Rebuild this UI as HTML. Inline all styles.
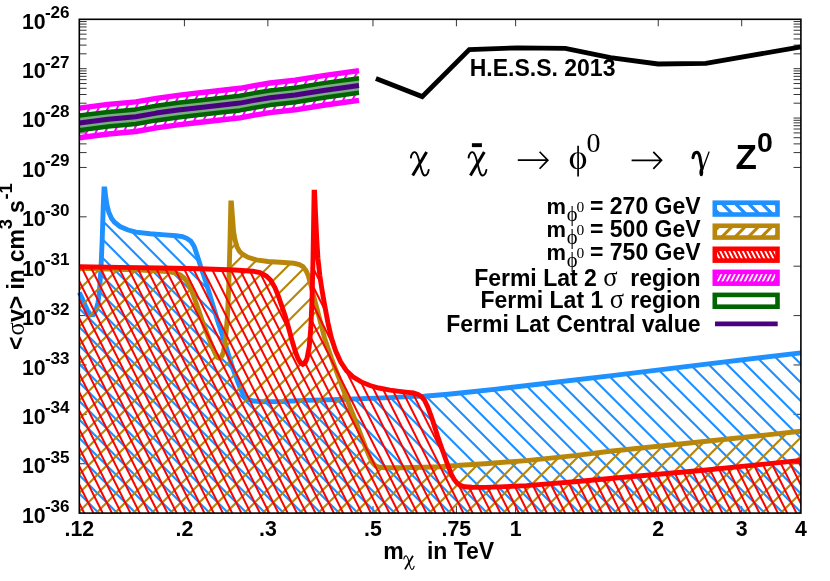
<!DOCTYPE html>
<html><head><meta charset="utf-8"><title>chart</title>
<style>html,body{margin:0;padding:0;background:#fff}svg{display:block}text{white-space:pre}#c{width:830px;height:581px;will-change:transform}</style></head>
<body>
<div id="c">
<svg width="830" height="581" viewBox="0 0 830 581">
<g>
<defs>
<clipPath id="cf"><rect x="79.30" y="19.30" width="721.60" height="493.80"/></clipPath>
<clipPath id="cb"><path d="M79.30 292.50 L82.00 298.00 L85.00 305.00 L88.00 311.50 L91.00 314.80 L93.50 314.50 L96.00 310.00 L98.00 303.00 L99.50 290.00 L101.00 268.00 L102.20 240.00 L103.30 205.00 L104.00 188.90 L104.80 188.90 L105.70 197.00 L107.00 205.20 L108.80 212.30 L111.60 218.60 L114.50 222.30 L120.00 226.50 L128.00 230.00 L136.00 232.20 L150.00 233.80 L165.00 234.90 L176.00 235.70 L182.50 236.60 L186.80 238.30 L190.90 241.30 L194.20 246.50 L196.90 254.40 L200.50 266.00 L205.90 281.90 L211.90 302.00 L218.40 323.20 L223.90 339.50 L228.30 354.10 L232.80 368.50 L237.70 381.60 L240.90 389.80 L244.20 395.80 L248.00 399.30 L253.50 401.00 L262.00 401.70 L283.00 401.50 L305.00 400.40 L340.00 399.50 L390.00 397.60 L413.20 396.40 L424.00 396.20 L436.00 395.30 L448.20 394.20 L460.00 393.00 L472.30 391.80 L496.40 389.10 L544.60 383.50 L610.00 375.90 L706.40 364.10 L800.90 352.90 L800.90 513.10 L79.30 513.10 Z"/></clipPath>
<clipPath id="cg"><path d="M79.30 268.20 L108.00 269.00 L135.80 269.90 L160.00 271.00 L170.00 271.90 L176.00 273.20 L180.50 275.20 L184.20 278.00 L187.20 281.90 L191.90 291.50 L197.20 306.00 L201.80 319.50 L207.00 333.50 L210.50 342.40 L213.50 350.00 L216.00 355.30 L217.60 357.40 L219.20 358.10 L220.80 357.40 L222.20 355.30 L223.50 351.50 L224.70 345.00 L225.80 335.00 L227.50 316.00 L228.80 285.00 L229.90 245.00 L230.85 203.00 L231.45 203.00 L232.40 216.00 L233.60 231.60 L235.10 240.30 L237.00 246.80 L239.40 251.20 L242.50 254.20 L248.00 257.30 L256.30 259.80 L268.00 261.50 L283.80 262.50 L294.00 263.30 L299.30 264.50 L303.00 266.60 L306.10 270.80 L308.20 275.50 L310.50 283.50 L313.00 294.00 L316.10 305.50 L320.30 321.50 L324.60 338.20 L331.40 358.00 L338.90 378.00 L347.15 399.80 L353.75 416.50 L360.50 434.20 L365.40 447.00 L369.90 457.60 L372.80 463.00 L375.70 466.00 L380.00 467.30 L385.70 467.70 L400.00 467.80 L423.60 467.30 L440.00 466.70 L460.00 465.30 L485.00 463.70 L526.40 460.60 L574.60 455.60 L610.00 451.20 L706.40 441.20 L800.90 431.30 L800.90 513.10 L79.30 513.10 Z"/></clipPath>
<clipPath id="cr"><path d="M79.30 266.80 L120.00 267.40 L160.00 268.00 L200.00 268.80 L235.00 270.00 L252.50 271.20 L260.00 272.60 L266.30 276.00 L270.50 280.00 L274.90 287.50 L278.00 295.00 L281.80 306.00 L285.20 316.00 L288.50 327.50 L292.00 340.50 L295.00 350.50 L298.00 358.50 L300.50 362.80 L302.80 364.40 L305.00 363.30 L307.00 358.50 L309.20 347.00 L310.80 328.00 L312.00 300.00 L313.00 260.00 L313.60 225.00 L314.10 192.30 L314.60 192.30 L315.60 215.00 L316.80 240.00 L318.00 259.00 L319.90 276.00 L322.00 290.00 L324.70 305.50 L327.90 322.50 L331.30 337.50 L335.60 350.80 L340.60 361.80 L346.30 370.50 L352.90 376.80 L361.20 381.90 L370.00 385.50 L378.80 388.00 L390.00 390.20 L399.50 391.40 L408.00 392.40 L413.50 393.00 L418.00 394.40 L421.50 396.60 L424.50 400.30 L427.70 406.90 L430.30 413.80 L432.90 421.30 L435.50 429.60 L438.10 437.90 L440.70 445.30 L443.20 452.30 L447.40 464.20 L451.50 474.60 L454.00 479.20 L456.70 482.80 L460.00 485.30 L464.90 486.80 L472.00 487.30 L485.00 487.40 L500.00 486.90 L526.40 485.60 L574.60 481.80 L610.00 478.50 L706.40 470.00 L800.90 460.40 L800.90 513.10 L79.30 513.10 Z"/></clipPath>
<clipPath id="cm"><path d="M79.30 108.10 L108.10 104.40 L135.80 101.90 L156.30 98.30 L178.00 95.30 L194.10 93.40 L218.20 90.70 L239.90 88.30 L254.30 85.60 L270.00 83.00 L295.10 80.20 L325.20 75.40 L359.00 70.70 L359.00 100.30 L325.20 105.00 L295.10 109.80 L270.00 112.60 L254.30 115.20 L239.90 117.90 L218.20 120.30 L194.10 123.00 L178.00 124.90 L156.30 127.90 L135.80 131.50 L108.10 134.00 L79.30 137.70 Z"/></clipPath>
</defs>
<path d="M79.30 53.82 h7.3 M800.90 53.82 h-7.3 M79.30 45.12 h7.3 M800.90 45.12 h-7.3 M79.30 38.95 h7.3 M800.90 38.95 h-7.3 M79.30 34.16 h7.3 M800.90 34.16 h-7.3 M79.30 30.25 h7.3 M800.90 30.25 h-7.3 M79.30 26.95 h7.3 M800.90 26.95 h-7.3 M79.30 24.09 h7.3 M800.90 24.09 h-7.3 M79.30 21.56 h7.3 M800.90 21.56 h-7.3 M79.30 68.68 h7.4 M800.90 68.68 h-7.4 M79.30 103.20 h7.3 M800.90 103.20 h-7.3 M79.30 94.50 h7.3 M800.90 94.50 h-7.3 M79.30 88.33 h7.3 M800.90 88.33 h-7.3 M79.30 83.54 h7.3 M800.90 83.54 h-7.3 M79.30 79.63 h7.3 M800.90 79.63 h-7.3 M79.30 76.33 h7.3 M800.90 76.33 h-7.3 M79.30 73.47 h7.3 M800.90 73.47 h-7.3 M79.30 70.94 h7.3 M800.90 70.94 h-7.3 M79.30 118.06 h7.4 M800.90 118.06 h-7.4 M79.30 152.58 h7.3 M800.90 152.58 h-7.3 M79.30 143.88 h7.3 M800.90 143.88 h-7.3 M79.30 137.71 h7.3 M800.90 137.71 h-7.3 M79.30 132.92 h7.3 M800.90 132.92 h-7.3 M79.30 129.01 h7.3 M800.90 129.01 h-7.3 M79.30 125.71 h7.3 M800.90 125.71 h-7.3 M79.30 122.85 h7.3 M800.90 122.85 h-7.3 M79.30 120.32 h7.3 M800.90 120.32 h-7.3 M79.30 167.44 h7.4 M800.90 167.44 h-7.4 M79.30 216.82 h7.4 M800.90 216.82 h-7.4 M79.30 266.20 h7.4 M800.90 266.20 h-7.4 M79.30 315.58 h7.4 M800.90 315.58 h-7.4 M79.30 364.96 h7.4 M800.90 364.96 h-7.4 M79.30 414.34 h7.4 M800.90 414.34 h-7.4 M79.30 463.72 h7.4 M800.90 463.72 h-7.4 M184.42 19.30 v7 M184.42 513.10 v-7 M267.86 19.30 v7 M267.86 513.10 v-7 M372.98 19.30 v7 M372.98 513.10 v-7 M456.42 19.30 v7 M456.42 513.10 v-7 M515.62 19.30 v7 M515.62 513.10 v-7 M658.26 19.30 v7 M658.26 513.10 v-7 M741.70 19.30 v7 M741.70 513.10 v-7" stroke="#000" stroke-width="0.8" fill="none"/>
<g>
<path d="M71.55 14.30 L-180.35 518.10 M80.80 14.30 L-171.10 518.10 M90.05 14.30 L-161.85 518.10 M99.30 14.30 L-152.60 518.10 M108.55 14.30 L-143.35 518.10 M117.80 14.30 L-134.10 518.10 M127.05 14.30 L-124.85 518.10 M136.30 14.30 L-115.60 518.10 M145.55 14.30 L-106.35 518.10 M154.80 14.30 L-97.10 518.10 M164.05 14.30 L-87.85 518.10 M173.30 14.30 L-78.60 518.10 M182.55 14.30 L-69.35 518.10 M191.80 14.30 L-60.10 518.10 M201.05 14.30 L-50.85 518.10 M210.30 14.30 L-41.60 518.10 M219.55 14.30 L-32.35 518.10 M228.80 14.30 L-23.10 518.10 M238.05 14.30 L-13.85 518.10 M247.30 14.30 L-4.60 518.10 M256.55 14.30 L4.65 518.10 M265.80 14.30 L13.90 518.10 M275.05 14.30 L23.15 518.10 M284.30 14.30 L32.40 518.10 M293.55 14.30 L41.65 518.10 M302.80 14.30 L50.90 518.10 M312.05 14.30 L60.15 518.10 M321.30 14.30 L69.40 518.10 M330.55 14.30 L78.65 518.10 M339.80 14.30 L87.90 518.10 M349.05 14.30 L97.15 518.10 M358.30 14.30 L106.40 518.10 M367.55 14.30 L115.65 518.10 M376.80 14.30 L124.90 518.10 M386.05 14.30 L134.15 518.10 M395.30 14.30 L143.40 518.10 M404.55 14.30 L152.65 518.10 M413.80 14.30 L161.90 518.10 M423.05 14.30 L171.15 518.10 M432.30 14.30 L180.40 518.10 M441.55 14.30 L189.65 518.10 M450.80 14.30 L198.90 518.10 M460.05 14.30 L208.15 518.10 M469.30 14.30 L217.40 518.10 M478.55 14.30 L226.65 518.10 M487.80 14.30 L235.90 518.10 M497.05 14.30 L245.15 518.10 M506.30 14.30 L254.40 518.10 M515.55 14.30 L263.65 518.10 M524.80 14.30 L272.90 518.10 M534.05 14.30 L282.15 518.10 M543.30 14.30 L291.40 518.10 M552.55 14.30 L300.65 518.10 M561.80 14.30 L309.90 518.10 M571.05 14.30 L319.15 518.10 M580.30 14.30 L328.40 518.10 M589.55 14.30 L337.65 518.10 M598.80 14.30 L346.90 518.10 M608.05 14.30 L356.15 518.10 M617.30 14.30 L365.40 518.10 M626.55 14.30 L374.65 518.10 M635.80 14.30 L383.90 518.10 M645.05 14.30 L393.15 518.10 M654.30 14.30 L402.40 518.10 M663.55 14.30 L411.65 518.10 M672.80 14.30 L420.90 518.10 M682.05 14.30 L430.15 518.10 M691.30 14.30 L439.40 518.10 M700.55 14.30 L448.65 518.10 M709.80 14.30 L457.90 518.10 M719.05 14.30 L467.15 518.10 M728.30 14.30 L476.40 518.10 M737.55 14.30 L485.65 518.10 M746.80 14.30 L494.90 518.10 M756.05 14.30 L504.15 518.10 M765.30 14.30 L513.40 518.10 M774.55 14.30 L522.65 518.10 M783.80 14.30 L531.90 518.10 M793.05 14.30 L541.15 518.10 M802.30 14.30 L550.40 518.10 M811.55 14.30 L559.65 518.10 M820.80 14.30 L568.90 518.10 M830.05 14.30 L578.15 518.10 M839.30 14.30 L587.40 518.10 M848.55 14.30 L596.65 518.10 M857.80 14.30 L605.90 518.10 M867.05 14.30 L615.15 518.10 M876.30 14.30 L624.40 518.10 M885.55 14.30 L633.65 518.10 M894.80 14.30 L642.90 518.10 M904.05 14.30 L652.15 518.10 M913.30 14.30 L661.40 518.10 M922.55 14.30 L670.65 518.10 M931.80 14.30 L679.90 518.10 M941.05 14.30 L689.15 518.10 M950.30 14.30 L698.40 518.10 M959.55 14.30 L707.65 518.10 M968.80 14.30 L716.90 518.10 M978.05 14.30 L726.15 518.10 M987.30 14.30 L735.40 518.10 M996.55 14.30 L744.65 518.10 M1005.80 14.30 L753.90 518.10 M1015.05 14.30 L763.15 518.10 M1024.30 14.30 L772.40 518.10 M1033.55 14.30 L781.65 518.10 M1042.80 14.30 L790.90 518.10 M1052.05 14.30 L800.15 518.10 M1061.30 14.30 L809.40 518.10" stroke="#ff00ff" stroke-width="2.00" fill="none" clip-path="url(#cm)"/>
<path d="M79.30 115.60 L108.10 111.90 L135.80 109.40 L156.30 105.80 L178.00 102.80 L194.10 100.90 L218.20 98.20 L239.90 95.80 L254.30 93.10 L270.00 90.50 L295.10 87.70 L325.20 82.90 L359.00 78.20 L359.00 92.80 L325.20 97.50 L295.10 102.30 L270.00 105.10 L254.30 107.70 L239.90 110.40 L218.20 112.80 L194.10 115.50 L178.00 117.40 L156.30 120.40 L135.80 124.00 L108.10 126.50 L79.30 130.20 Z" fill="#7aad7f" stroke="none"/>
<path d="M79.30 108.10 L108.10 104.40 L135.80 101.90 L156.30 98.30 L178.00 95.30 L194.10 93.40 L218.20 90.70 L239.90 88.30 L254.30 85.60 L270.00 83.00 L295.10 80.20 L325.20 75.40 L359.00 70.70" fill="none" stroke="#ff00ff" stroke-width="5.4" stroke-linejoin="round"/>
<path d="M79.30 137.70 L108.10 134.00 L135.80 131.50 L156.30 127.90 L178.00 124.90 L194.10 123.00 L218.20 120.30 L239.90 117.90 L254.30 115.20 L270.00 112.60 L295.10 109.80 L325.20 105.00 L359.00 100.30" fill="none" stroke="#ff00ff" stroke-width="5.4" stroke-linejoin="round"/>
<path d="M79.30 115.60 L108.10 111.90 L135.80 109.40 L156.30 105.80 L178.00 102.80 L194.10 100.90 L218.20 98.20 L239.90 95.80 L254.30 93.10 L270.00 90.50 L295.10 87.70 L325.20 82.90 L359.00 78.20" fill="none" stroke="#006400" stroke-width="4.5" stroke-linejoin="round"/>
<path d="M79.30 130.20 L108.10 126.50 L135.80 124.00 L156.30 120.40 L178.00 117.40 L194.10 115.50 L218.20 112.80 L239.90 110.40 L254.30 107.70 L270.00 105.10 L295.10 102.30 L325.20 97.50 L359.00 92.80" fill="none" stroke="#006400" stroke-width="4.5" stroke-linejoin="round"/>
<path d="M79.30 122.90 L108.10 119.20 L135.80 116.70 L156.30 113.10 L178.00 110.10 L194.10 108.20 L218.20 105.50 L239.90 103.10 L254.30 100.40 L270.00 97.80 L295.10 95.00 L325.20 90.20 L359.00 85.50" fill="none" stroke="#4b0082" stroke-width="5.0" stroke-linejoin="round"/>
</g>
<path d="M375.90 78.40 L422.20 96.60 L469.30 49.50 L517.60 47.80 L565.30 48.30 L610.40 57.60 L658.10 64.00 L705.80 63.40 L800.90 46.90" fill="none" stroke="#000" stroke-width="4.8" stroke-linejoin="miter"/>
<g>
<path d="M802.50 14.30 L1306.30 518.10 M784.00 14.30 L1287.80 518.10 M765.50 14.30 L1269.30 518.10 M747.00 14.30 L1250.80 518.10 M728.50 14.30 L1232.30 518.10 M710.00 14.30 L1213.80 518.10 M691.50 14.30 L1195.30 518.10 M673.00 14.30 L1176.80 518.10 M654.50 14.30 L1158.30 518.10 M636.00 14.30 L1139.80 518.10 M617.50 14.30 L1121.30 518.10 M599.00 14.30 L1102.80 518.10 M580.50 14.30 L1084.30 518.10 M562.00 14.30 L1065.80 518.10 M543.50 14.30 L1047.30 518.10 M525.00 14.30 L1028.80 518.10 M506.50 14.30 L1010.30 518.10 M488.00 14.30 L991.80 518.10 M469.50 14.30 L973.30 518.10 M451.00 14.30 L954.80 518.10 M432.50 14.30 L936.30 518.10 M414.00 14.30 L917.80 518.10 M395.50 14.30 L899.30 518.10 M377.00 14.30 L880.80 518.10 M358.50 14.30 L862.30 518.10 M340.00 14.30 L843.80 518.10 M321.50 14.30 L825.30 518.10 M303.00 14.30 L806.80 518.10 M284.50 14.30 L788.30 518.10 M266.00 14.30 L769.80 518.10 M247.50 14.30 L751.30 518.10 M229.00 14.30 L732.80 518.10 M210.50 14.30 L714.30 518.10 M192.00 14.30 L695.80 518.10 M173.50 14.30 L677.30 518.10 M155.00 14.30 L658.80 518.10 M136.50 14.30 L640.30 518.10 M118.00 14.30 L621.80 518.10 M99.50 14.30 L603.30 518.10 M81.00 14.30 L584.80 518.10 M62.50 14.30 L566.30 518.10 M44.00 14.30 L547.80 518.10 M25.50 14.30 L529.30 518.10 M7.00 14.30 L510.80 518.10 M-11.50 14.30 L492.30 518.10 M-30.00 14.30 L473.80 518.10 M-48.50 14.30 L455.30 518.10 M-67.00 14.30 L436.80 518.10 M-85.50 14.30 L418.30 518.10 M-104.00 14.30 L399.80 518.10 M-122.50 14.30 L381.30 518.10 M-141.00 14.30 L362.80 518.10 M-159.50 14.30 L344.30 518.10 M-178.00 14.30 L325.80 518.10 M-196.50 14.30 L307.30 518.10 M-215.00 14.30 L288.80 518.10 M-233.50 14.30 L270.30 518.10 M-252.00 14.30 L251.80 518.10 M-270.50 14.30 L233.30 518.10 M-289.00 14.30 L214.80 518.10 M-307.50 14.30 L196.30 518.10 M-326.00 14.30 L177.80 518.10 M-344.50 14.30 L159.30 518.10 M-363.00 14.30 L140.80 518.10 M-381.50 14.30 L122.30 518.10 M-400.00 14.30 L103.80 518.10 M-418.50 14.30 L85.30 518.10 M-437.00 14.30 L66.80 518.10" stroke="#1e90ff" stroke-width="2.10" fill="none" clip-path="url(#cb)"/>
<path d="M79.30 292.50 L82.00 298.00 L85.00 305.00 L88.00 311.50 L91.00 314.80 L93.50 314.50 L96.00 310.00 L98.00 303.00 L99.50 290.00 L101.00 268.00 L102.20 240.00 L103.30 205.00 L104.00 188.90 L104.80 188.90 L105.70 197.00 L107.00 205.20 L108.80 212.30 L111.60 218.60 L114.50 222.30 L120.00 226.50 L128.00 230.00 L136.00 232.20 L150.00 233.80 L165.00 234.90 L176.00 235.70 L182.50 236.60 L186.80 238.30 L190.90 241.30 L194.20 246.50 L196.90 254.40 L200.50 266.00 L205.90 281.90 L211.90 302.00 L218.40 323.20 L223.90 339.50 L228.30 354.10 L232.80 368.50 L237.70 381.60 L240.90 389.80 L244.20 395.80 L248.00 399.30 L253.50 401.00 L262.00 401.70 L283.00 401.50 L305.00 400.40 L340.00 399.50 L390.00 397.60 L413.20 396.40 L424.00 396.20 L436.00 395.30 L448.20 394.20 L460.00 393.00 L472.30 391.80 L496.40 389.10 L544.60 383.50 L610.00 375.90 L706.40 364.10 L800.90 352.90" fill="none" stroke="#1e90ff" stroke-width="4.9" stroke-linejoin="miter" stroke-miterlimit="3"/>
<path d="M77.00 14.30 L-426.80 518.10 M95.50 14.30 L-408.30 518.10 M114.00 14.30 L-389.80 518.10 M132.50 14.30 L-371.30 518.10 M151.00 14.30 L-352.80 518.10 M169.50 14.30 L-334.30 518.10 M188.00 14.30 L-315.80 518.10 M206.50 14.30 L-297.30 518.10 M225.00 14.30 L-278.80 518.10 M243.50 14.30 L-260.30 518.10 M262.00 14.30 L-241.80 518.10 M280.50 14.30 L-223.30 518.10 M299.00 14.30 L-204.80 518.10 M317.50 14.30 L-186.30 518.10 M336.00 14.30 L-167.80 518.10 M354.50 14.30 L-149.30 518.10 M373.00 14.30 L-130.80 518.10 M391.50 14.30 L-112.30 518.10 M410.00 14.30 L-93.80 518.10 M428.50 14.30 L-75.30 518.10 M447.00 14.30 L-56.80 518.10 M465.50 14.30 L-38.30 518.10 M484.00 14.30 L-19.80 518.10 M502.50 14.30 L-1.30 518.10 M521.00 14.30 L17.20 518.10 M539.50 14.30 L35.70 518.10 M558.00 14.30 L54.20 518.10 M576.50 14.30 L72.70 518.10 M595.00 14.30 L91.20 518.10 M613.50 14.30 L109.70 518.10 M632.00 14.30 L128.20 518.10 M650.50 14.30 L146.70 518.10 M669.00 14.30 L165.20 518.10 M687.50 14.30 L183.70 518.10 M706.00 14.30 L202.20 518.10 M724.50 14.30 L220.70 518.10 M743.00 14.30 L239.20 518.10 M761.50 14.30 L257.70 518.10 M780.00 14.30 L276.20 518.10 M798.50 14.30 L294.70 518.10 M817.00 14.30 L313.20 518.10 M835.50 14.30 L331.70 518.10 M854.00 14.30 L350.20 518.10 M872.50 14.30 L368.70 518.10 M891.00 14.30 L387.20 518.10 M909.50 14.30 L405.70 518.10 M928.00 14.30 L424.20 518.10 M946.50 14.30 L442.70 518.10 M965.00 14.30 L461.20 518.10 M983.50 14.30 L479.70 518.10 M1002.00 14.30 L498.20 518.10 M1020.50 14.30 L516.70 518.10 M1039.00 14.30 L535.20 518.10 M1057.50 14.30 L553.70 518.10 M1076.00 14.30 L572.20 518.10 M1094.50 14.30 L590.70 518.10 M1113.00 14.30 L609.20 518.10 M1131.50 14.30 L627.70 518.10 M1150.00 14.30 L646.20 518.10 M1168.50 14.30 L664.70 518.10 M1187.00 14.30 L683.20 518.10 M1205.50 14.30 L701.70 518.10 M1224.00 14.30 L720.20 518.10 M1242.50 14.30 L738.70 518.10 M1261.00 14.30 L757.20 518.10 M1279.50 14.30 L775.70 518.10 M1298.00 14.30 L794.20 518.10 M1316.50 14.30 L812.70 518.10" stroke="#b8860b" stroke-width="2.15" fill="none" clip-path="url(#cg)"/>
<path d="M79.30 268.20 L108.00 269.00 L135.80 269.90 L160.00 271.00 L170.00 271.90 L176.00 273.20 L180.50 275.20 L184.20 278.00 L187.20 281.90 L191.90 291.50 L197.20 306.00 L201.80 319.50 L207.00 333.50 L210.50 342.40 L213.50 350.00 L216.00 355.30 L217.60 357.40 L219.20 358.10 L220.80 357.40 L222.20 355.30 L223.50 351.50 L224.70 345.00 L225.80 335.00 L227.50 316.00 L228.80 285.00 L229.90 245.00 L230.85 203.00 L231.45 203.00 L232.40 216.00 L233.60 231.60 L235.10 240.30 L237.00 246.80 L239.40 251.20 L242.50 254.20 L248.00 257.30 L256.30 259.80 L268.00 261.50 L283.80 262.50 L294.00 263.30 L299.30 264.50 L303.00 266.60 L306.10 270.80 L308.20 275.50 L310.50 283.50 L313.00 294.00 L316.10 305.50 L320.30 321.50 L324.60 338.20 L331.40 358.00 L338.90 378.00 L347.15 399.80 L353.75 416.50 L360.50 434.20 L365.40 447.00 L369.90 457.60 L372.80 463.00 L375.70 466.00 L380.00 467.30 L385.70 467.70 L400.00 467.80 L423.60 467.30 L440.00 466.70 L460.00 465.30 L485.00 463.70 L526.40 460.60 L574.60 455.60 L610.00 451.20 L706.40 441.20 L800.90 431.30" fill="none" stroke="#b8860b" stroke-width="4.9" stroke-linejoin="miter" stroke-miterlimit="3"/>
<path d="M-174.45 14.30 L77.45 518.10 M-165.20 14.30 L86.70 518.10 M-155.95 14.30 L95.95 518.10 M-146.70 14.30 L105.20 518.10 M-137.45 14.30 L114.45 518.10 M-128.20 14.30 L123.70 518.10 M-118.95 14.30 L132.95 518.10 M-109.70 14.30 L142.20 518.10 M-100.45 14.30 L151.45 518.10 M-91.20 14.30 L160.70 518.10 M-81.95 14.30 L169.95 518.10 M-72.70 14.30 L179.20 518.10 M-63.45 14.30 L188.45 518.10 M-54.20 14.30 L197.70 518.10 M-44.95 14.30 L206.95 518.10 M-35.70 14.30 L216.20 518.10 M-26.45 14.30 L225.45 518.10 M-17.20 14.30 L234.70 518.10 M-7.95 14.30 L243.95 518.10 M1.30 14.30 L253.20 518.10 M10.55 14.30 L262.45 518.10 M19.80 14.30 L271.70 518.10 M29.05 14.30 L280.95 518.10 M38.30 14.30 L290.20 518.10 M47.55 14.30 L299.45 518.10 M56.80 14.30 L308.70 518.10 M66.05 14.30 L317.95 518.10 M75.30 14.30 L327.20 518.10 M84.55 14.30 L336.45 518.10 M93.80 14.30 L345.70 518.10 M103.05 14.30 L354.95 518.10 M112.30 14.30 L364.20 518.10 M121.55 14.30 L373.45 518.10 M130.80 14.30 L382.70 518.10 M140.05 14.30 L391.95 518.10 M149.30 14.30 L401.20 518.10 M158.55 14.30 L410.45 518.10 M167.80 14.30 L419.70 518.10 M177.05 14.30 L428.95 518.10 M186.30 14.30 L438.20 518.10 M195.55 14.30 L447.45 518.10 M204.80 14.30 L456.70 518.10 M214.05 14.30 L465.95 518.10 M223.30 14.30 L475.20 518.10 M232.55 14.30 L484.45 518.10 M241.80 14.30 L493.70 518.10 M251.05 14.30 L502.95 518.10 M260.30 14.30 L512.20 518.10 M269.55 14.30 L521.45 518.10 M278.80 14.30 L530.70 518.10 M288.05 14.30 L539.95 518.10 M297.30 14.30 L549.20 518.10 M306.55 14.30 L558.45 518.10 M315.80 14.30 L567.70 518.10 M325.05 14.30 L576.95 518.10 M334.30 14.30 L586.20 518.10 M343.55 14.30 L595.45 518.10 M352.80 14.30 L604.70 518.10 M362.05 14.30 L613.95 518.10 M371.30 14.30 L623.20 518.10 M380.55 14.30 L632.45 518.10 M389.80 14.30 L641.70 518.10 M399.05 14.30 L650.95 518.10 M408.30 14.30 L660.20 518.10 M417.55 14.30 L669.45 518.10 M426.80 14.30 L678.70 518.10 M436.05 14.30 L687.95 518.10 M445.30 14.30 L697.20 518.10 M454.55 14.30 L706.45 518.10 M463.80 14.30 L715.70 518.10 M473.05 14.30 L724.95 518.10 M482.30 14.30 L734.20 518.10 M491.55 14.30 L743.45 518.10 M500.80 14.30 L752.70 518.10 M510.05 14.30 L761.95 518.10 M519.30 14.30 L771.20 518.10 M528.55 14.30 L780.45 518.10 M537.80 14.30 L789.70 518.10 M547.05 14.30 L798.95 518.10 M556.30 14.30 L808.20 518.10 M565.55 14.30 L817.45 518.10 M574.80 14.30 L826.70 518.10 M584.05 14.30 L835.95 518.10 M593.30 14.30 L845.20 518.10 M602.55 14.30 L854.45 518.10 M611.80 14.30 L863.70 518.10 M621.05 14.30 L872.95 518.10 M630.30 14.30 L882.20 518.10 M639.55 14.30 L891.45 518.10 M648.80 14.30 L900.70 518.10 M658.05 14.30 L909.95 518.10 M667.30 14.30 L919.20 518.10 M676.55 14.30 L928.45 518.10 M685.80 14.30 L937.70 518.10 M695.05 14.30 L946.95 518.10 M704.30 14.30 L956.20 518.10 M713.55 14.30 L965.45 518.10 M722.80 14.30 L974.70 518.10 M732.05 14.30 L983.95 518.10 M741.30 14.30 L993.20 518.10 M750.55 14.30 L1002.45 518.10 M759.80 14.30 L1011.70 518.10 M769.05 14.30 L1020.95 518.10 M778.30 14.30 L1030.20 518.10 M787.55 14.30 L1039.45 518.10 M796.80 14.30 L1048.70 518.10 M806.05 14.30 L1057.95 518.10" stroke="#ff0000" stroke-width="2.00" fill="none" clip-path="url(#cr)"/>
<path d="M79.30 266.80 L120.00 267.40 L160.00 268.00 L200.00 268.80 L235.00 270.00 L252.50 271.20 L260.00 272.60 L266.30 276.00 L270.50 280.00 L274.90 287.50 L278.00 295.00 L281.80 306.00 L285.20 316.00 L288.50 327.50 L292.00 340.50 L295.00 350.50 L298.00 358.50 L300.50 362.80 L302.80 364.40 L305.00 363.30 L307.00 358.50 L309.20 347.00 L310.80 328.00 L312.00 300.00 L313.00 260.00 L313.60 225.00 L314.10 192.30 L314.60 192.30 L315.60 215.00 L316.80 240.00 L318.00 259.00 L319.90 276.00 L322.00 290.00 L324.70 305.50 L327.90 322.50 L331.30 337.50 L335.60 350.80 L340.60 361.80 L346.30 370.50 L352.90 376.80 L361.20 381.90 L370.00 385.50 L378.80 388.00 L390.00 390.20 L399.50 391.40 L408.00 392.40 L413.50 393.00 L418.00 394.40 L421.50 396.60 L424.50 400.30 L427.70 406.90 L430.30 413.80 L432.90 421.30 L435.50 429.60 L438.10 437.90 L440.70 445.30 L443.20 452.30 L447.40 464.20 L451.50 474.60 L454.00 479.20 L456.70 482.80 L460.00 485.30 L464.90 486.80 L472.00 487.30 L485.00 487.40 L500.00 486.90 L526.40 485.60 L574.60 481.80 L610.00 478.50 L706.40 470.00 L800.90 460.40" fill="none" stroke="#ff0000" stroke-width="4.9" stroke-linejoin="miter" stroke-miterlimit="3"/>
</g>
<rect x="79.30" y="19.30" width="721.60" height="493.80" fill="none" stroke="#000" stroke-width="1.6"/>
<g style="font-family:'Liberation Sans',sans-serif;font-weight:bold;font-size:21.33px" fill="#000">
<text x="69.6" y="28.60" text-anchor="end">10<tspan dy="-10.5" dx="-0.7" font-size="17.07">-26</tspan></text>
<text x="69.6" y="78.02" text-anchor="end">10<tspan dy="-10.5" dx="-0.7" font-size="17.07">-27</tspan></text>
<text x="69.6" y="127.44" text-anchor="end">10<tspan dy="-10.5" dx="-0.7" font-size="17.07">-28</tspan></text>
<text x="69.6" y="176.86" text-anchor="end">10<tspan dy="-10.5" dx="-0.7" font-size="17.07">-29</tspan></text>
<text x="69.6" y="226.28" text-anchor="end">10<tspan dy="-10.5" dx="-0.7" font-size="17.07">-30</tspan></text>
<text x="69.6" y="275.70" text-anchor="end">10<tspan dy="-10.5" dx="-0.7" font-size="17.07">-31</tspan></text>
<text x="69.6" y="325.12" text-anchor="end">10<tspan dy="-10.5" dx="-0.7" font-size="17.07">-32</tspan></text>
<text x="69.6" y="374.54" text-anchor="end">10<tspan dy="-10.5" dx="-0.7" font-size="17.07">-33</tspan></text>
<text x="69.6" y="423.96" text-anchor="end">10<tspan dy="-10.5" dx="-0.7" font-size="17.07">-34</tspan></text>
<text x="69.6" y="473.38" text-anchor="end">10<tspan dy="-10.5" dx="-0.7" font-size="17.07">-35</tspan></text>
<text x="69.6" y="522.80" text-anchor="end">10<tspan dy="-10.5" dx="-0.7" font-size="17.07">-36</tspan></text>
<text x="79.30" y="536.4" text-anchor="middle">.12</text>
<text x="184.42" y="536.4" text-anchor="middle">.2</text>
<text x="267.86" y="536.4" text-anchor="middle">.3</text>
<text x="372.98" y="536.4" text-anchor="middle">.5</text>
<text x="456.42" y="536.4" text-anchor="middle">.75</text>
<text x="515.62" y="536.4" text-anchor="middle">1</text>
<text x="658.26" y="536.4" text-anchor="middle">2</text>
<text x="741.70" y="536.4" text-anchor="middle">3</text>
<text x="800.90" y="536.4" text-anchor="middle">4</text>
<text x="383.2" y="558.7" font-size="23">m</text>
<text x="426.9" y="558.7" font-size="23">in TeV</text>
<text transform="translate(23.80 349.90) rotate(-90)" font-size="23.00">&lt;</text>
<text transform="translate(24.00 335.40) rotate(-90)" font-size="24.50" style="font-family:'Liberation Serif',serif;font-weight:normal">σ</text>
<text transform="translate(23.80 322.00) rotate(-90)" font-size="23.00">v&gt;</text>
<text transform="translate(23.80 289.60) rotate(-90)" font-size="23.00">in</text>
<text transform="translate(23.80 262.20) rotate(-90)" font-size="23.00">cm</text>
<text transform="translate(11.50 229.20) rotate(-90)" font-size="18.40">3</text>
<text transform="translate(23.80 213.00) rotate(-90)" font-size="23.00">s</text>
<text transform="translate(11.50 199.50) rotate(-90)" font-size="18.40">-1</text>
<text x="469.7" y="76.2" font-size="23">H.E.S.S. 2013</text>
<text x="546.5" y="214.30" font-size="21.9">m</text>
<text x="566.7" y="220.60" style="font-family:'Liberation Serif',serif;font-weight:normal" font-size="20.5">ϕ</text>
<text x="576.4" y="211.90" style="font-family:'Liberation Serif',serif;font-weight:normal" font-size="15.5">0</text>
<text x="700.6" y="214.30" text-anchor="end" font-size="23">= 270 GeV</text>
<text x="546.5" y="237.20" font-size="21.9">m</text>
<text x="566.7" y="243.50" style="font-family:'Liberation Serif',serif;font-weight:normal" font-size="20.5">ϕ</text>
<text x="576.4" y="234.80" style="font-family:'Liberation Serif',serif;font-weight:normal" font-size="15.5">0</text>
<text x="700.6" y="237.20" text-anchor="end" font-size="23">= 500 GeV</text>
<text x="546.5" y="260.20" font-size="21.9">m</text>
<text x="566.7" y="266.50" style="font-family:'Liberation Serif',serif;font-weight:normal" font-size="20.5">ϕ</text>
<text x="576.4" y="257.80" style="font-family:'Liberation Serif',serif;font-weight:normal" font-size="15.5">0</text>
<text x="700.6" y="260.20" text-anchor="end" font-size="23">= 750 GeV</text>
<text x="700.6" y="285.50" text-anchor="end" font-size="23">Fermi Lat 2 <tspan style="font-family:'Liberation Serif',serif;font-weight:normal" font-size="26.5">σ</tspan>  region</text>
<text x="700.6" y="308.30" text-anchor="end" font-size="23">Fermi Lat 1 <tspan style="font-family:'Liberation Serif',serif;font-weight:normal" font-size="26.5">σ</tspan> region</text>
<text x="700.6" y="331.50" text-anchor="end" font-size="23">Fermi Lat Central value</text>
</g>
<g transform="translate(0.00 0)" fill="none" stroke="#000">
<path d="M426.6 151.9 L412.7 175.4" stroke-width="3.0"/>
<path d="M410.9 157.6 C411.4 153.4 413.6 151.6 415.4 152.3 C417.9 153.3 419.0 160.0 420.5 166.3 C422.0 172.2 423.0 175.9 425.1 175.5 C427.0 175.2 428.2 172.6 428.7 169.9" stroke-width="1.9" stroke-linecap="round"/>
</g>
<g transform="translate(57.70 0)" fill="none" stroke="#000">
<path d="M426.6 151.9 L412.7 175.4" stroke-width="3.0"/>
<path d="M410.9 157.6 C411.4 153.4 413.6 151.6 415.4 152.3 C417.9 153.3 419.0 160.0 420.5 166.3 C422.0 172.2 423.0 175.9 425.1 175.5 C427.0 175.2 428.2 172.6 428.7 169.9" stroke-width="1.9" stroke-linecap="round"/>
</g>
<g transform="translate(403.7 555.4) scale(0.58) translate(-410.6 -151.3)" fill="none" stroke="#000">
<path d="M426.6 151.9 L412.7 175.4" stroke-width="3.0"/>
<path d="M410.9 157.6 C411.4 153.4 413.6 151.6 415.4 152.3 C417.9 153.3 419.0 160.0 420.5 166.3 C422.0 172.2 423.0 175.9 425.1 175.5 C427.0 175.2 428.2 172.6 428.7 169.9" stroke-width="1.9" stroke-linecap="round"/>
</g>
<rect x="471.9" y="143.2" width="10.0" height="3.9" fill="#000"/>
<path d="M517.80 160.15 H547.50 M539.60 151.75 L547.80 160.15 L539.60 168.75" fill="none" stroke="#000" stroke-width="1.75" stroke-linejoin="miter"/>
<path d="M631.60 160.30 H661.20 M653.30 151.90 L661.50 160.30 L653.30 168.90" fill="none" stroke="#000" stroke-width="1.75" stroke-linejoin="miter"/>
<path d="M578.1 145.7 V176.4" stroke="#000" stroke-width="1.7" fill="none"/>
<path fill-rule="evenodd" d="M569.8 160.8 C569.8 155.6 573.4 152.2 578.0 152.2 C582.6 152.2 586.2 155.6 586.2 160.8 C586.2 166.0 582.6 169.3 578.0 169.3 C573.4 169.3 569.8 166.0 569.8 160.8 Z M573.0 160.8 C573.0 165.2 575.0 168.4 578.0 168.4 C581.0 168.4 583.0 165.2 583.0 160.8 C583.0 156.4 581.0 153.1 578.0 153.1 C575.0 153.1 573.0 156.4 573.0 160.8 Z" fill="#000"/>
<text x="586.4" y="151.8" style="font-family:'Liberation Serif',serif;font-weight:normal" font-size="28">0</text>
<path d="M693.0 157.6 C693.3 154.6 694.9 152.4 696.8 152.4 C698.5 152.4 699.3 154.4 699.9 157.0 L702.0 169.0" stroke="#000" stroke-width="3.1" fill="none" stroke-linecap="round"/>
<path d="M709.0 152.0 L702.3 170.0" stroke="#000" stroke-width="1.3" fill="none" stroke-linecap="round"/>
<ellipse cx="701.3" cy="172.3" rx="1.9" ry="3.9" fill="#000"/>
<text x="735.6" y="168.9" style="font-family:'Liberation Sans',sans-serif;font-weight:bold" font-size="35">Z<tspan dy="-16.9" font-size="28.5">0</tspan></text>
<defs>
<clipPath id="l0"><rect x="714.80" y="202.70" width="62.70" height="11.80"/></clipPath>
<clipPath id="l1"><rect x="714.80" y="225.75" width="62.70" height="11.80"/></clipPath>
<clipPath id="l2"><rect x="714.80" y="248.80" width="62.70" height="11.80"/></clipPath>
<clipPath id="l3"><rect x="714.80" y="271.85" width="62.70" height="11.80"/></clipPath>
<clipPath id="l4"><rect x="714.80" y="294.90" width="62.70" height="11.80"/></clipPath>
</defs>
<path d="M693.70 201.70 L707.50 215.50 M706.95 201.70 L720.75 215.50 M720.20 201.70 L734.00 215.50 M733.45 201.70 L747.25 215.50 M746.70 201.70 L760.50 215.50 M759.95 201.70 L773.75 215.50 M773.20 201.70 L787.00 215.50 M786.45 201.70 L800.25 215.50 M799.70 201.70 L813.50 215.50" stroke="#1e90ff" stroke-width="3.30" fill="none" clip-path="url(#l0)"/>
<path d="M694.25 224.75 L680.45 238.55 M707.50 224.75 L693.70 238.55 M720.75 224.75 L706.95 238.55 M734.00 224.75 L720.20 238.55 M747.25 224.75 L733.45 238.55 M760.50 224.75 L746.70 238.55 M773.75 224.75 L759.95 238.55 M787.00 224.75 L773.20 238.55 M800.25 224.75 L786.45 238.55" stroke="#b8860b" stroke-width="3.10" fill="none" clip-path="url(#l1)"/>
<path d="M684.80 247.80 L691.70 261.60 M689.30 247.80 L696.20 261.60 M693.80 247.80 L700.70 261.60 M698.30 247.80 L705.20 261.60 M702.80 247.80 L709.70 261.60 M707.30 247.80 L714.20 261.60 M711.80 247.80 L718.70 261.60 M716.30 247.80 L723.20 261.60 M720.80 247.80 L727.70 261.60 M725.30 247.80 L732.20 261.60 M729.80 247.80 L736.70 261.60 M734.30 247.80 L741.20 261.60 M738.80 247.80 L745.70 261.60 M743.30 247.80 L750.20 261.60 M747.80 247.80 L754.70 261.60 M752.30 247.80 L759.20 261.60 M756.80 247.80 L763.70 261.60 M761.30 247.80 L768.20 261.60 M765.80 247.80 L772.70 261.60 M770.30 247.80 L777.20 261.60 M774.80 247.80 L781.70 261.60 M779.30 247.80 L786.20 261.60 M783.80 247.80 L790.70 261.60 M788.30 247.80 L795.20 261.60 M792.80 247.80 L799.70 261.60 M797.30 247.80 L804.20 261.60 M801.80 247.80 L808.70 261.60 M806.30 247.80 L813.20 261.60" stroke="#ff0000" stroke-width="2.20" fill="none" clip-path="url(#l2)"/>
<path d="M684.80 270.85 L677.90 284.65 M689.30 270.85 L682.40 284.65 M693.80 270.85 L686.90 284.65 M698.30 270.85 L691.40 284.65 M702.80 270.85 L695.90 284.65 M707.30 270.85 L700.40 284.65 M711.80 270.85 L704.90 284.65 M716.30 270.85 L709.40 284.65 M720.80 270.85 L713.90 284.65 M725.30 270.85 L718.40 284.65 M729.80 270.85 L722.90 284.65 M734.30 270.85 L727.40 284.65 M738.80 270.85 L731.90 284.65 M743.30 270.85 L736.40 284.65 M747.80 270.85 L740.90 284.65 M752.30 270.85 L745.40 284.65 M756.80 270.85 L749.90 284.65 M761.30 270.85 L754.40 284.65 M765.80 270.85 L758.90 284.65 M770.30 270.85 L763.40 284.65 M774.80 270.85 L767.90 284.65 M779.30 270.85 L772.40 284.65 M783.80 270.85 L776.90 284.65 M788.30 270.85 L781.40 284.65 M792.80 270.85 L785.90 284.65 M797.30 270.85 L790.40 284.65 M801.80 270.85 L794.90 284.65 M806.30 270.85 L799.40 284.65" stroke="#ff00ff" stroke-width="2.20" fill="none" clip-path="url(#l3)"/>
<rect x="714.80" y="202.70" width="62.70" height="11.80" fill="none" stroke="#1e90ff" stroke-width="4.6"/>
<rect x="714.80" y="225.75" width="62.70" height="11.80" fill="none" stroke="#b8860b" stroke-width="4.6"/>
<rect x="714.80" y="248.80" width="62.70" height="11.80" fill="none" stroke="#ff0000" stroke-width="4.6"/>
<rect x="714.80" y="271.85" width="62.70" height="11.80" fill="none" stroke="#ff00ff" stroke-width="4.6"/>
<rect x="714.80" y="294.90" width="62.70" height="11.80" fill="none" stroke="#006400" stroke-width="4.6"/>
<path d="M715 323.85 H777.7" stroke="#4b0082" stroke-width="4.6"/>
</g>
</svg>
</div>
</body></html>
